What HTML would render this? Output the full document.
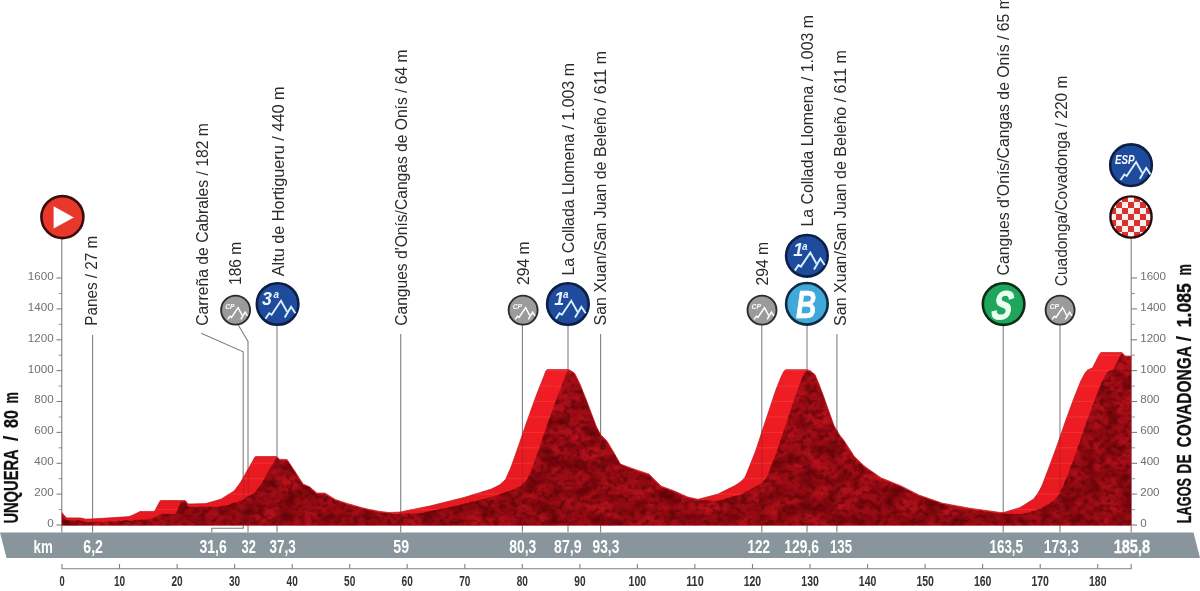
<!DOCTYPE html>
<html lang="es"><head><meta charset="utf-8"><title>Unquera - Lagos de Covadonga</title>
<style>
html,body{margin:0;padding:0;background:#fff;}
body{width:1200px;height:591px;overflow:hidden;}
svg{display:block;}
text{font-family:"Liberation Sans",sans-serif;}
.lbl{font-size:15.6px;fill:#2a2a2a;}
.ax{font-size:11.6px;fill:#707070;}
.km{font-size:18.2px;font-weight:bold;fill:#fff;}
.kx{font-size:14px;font-weight:bold;fill:#333;}
.ttl{font-size:19.4px;font-weight:bold;fill:#111;stroke:#111;stroke-width:.3px;stroke-linejoin:round;}
.ln{stroke:#808080;stroke-width:1.1;fill:none;}
</style></head><body>
<svg width="1200" height="591" viewBox="0 0 1200 591">
<defs>
<filter id="rock" x="0" y="0" width="100%" height="100%" filterUnits="objectBoundingBox" color-interpolation-filters="sRGB">
<feTurbulence type="fractalNoise" baseFrequency="0.17 0.2" numOctaves="2" seed="7" result="n1"/>
<feTurbulence type="fractalNoise" baseFrequency="0.05 0.07" numOctaves="2" seed="23" result="n2"/>
<feColorMatrix in="n1" type="matrix" values="0 0 0 0 0  0 0 0 0 0  0 0 0 0 0  3.6 0 0 0 -1.6" result="a"/>
<feFlood flood-color="#520308" flood-opacity=".6"/>
<feComposite operator="in" in2="a" result="dk"/>
<feColorMatrix in="n2" type="matrix" values="0 0 0 0 0  0 0 0 0 0  0 0 0 0 0  0 3 0 0 -1.2" result="b"/>
<feFlood flood-color="#c2141e" flood-opacity=".7"/>
<feComposite operator="in" in2="b" result="lt"/>
<feColorMatrix in="n2" type="matrix" values="0 0 0 0 0  0 0 0 0 0  0 0 0 0 0  0 0 3.2 0 -1.45" result="c"/>
<feFlood flood-color="#650308" flood-opacity=".8"/>
<feComposite operator="in" in2="c" result="dk2"/>
<feMerge><feMergeNode in="SourceGraphic"/><feMergeNode in="lt"/><feMergeNode in="dk2"/><feMergeNode in="dk"/></feMerge>
<feComposite operator="in" in2="SourceGraphic"/>
</filter>
<linearGradient id="top" x1="0" y1="0" x2="0" y2="1" gradientUnits="userSpaceOnUse" gradientTransform="translate(0,350) scale(1,176)">
<stop offset="0" stop-color="#f21e25"/><stop offset="1" stop-color="#e6181f"/>
</linearGradient>
<linearGradient id="body" x1="0" y1="0" x2="0" y2="1" gradientUnits="userSpaceOnUse" gradientTransform="translate(0,350) scale(1,176)">
<stop offset="0" stop-color="#ac0e18"/><stop offset="1" stop-color="#960b13"/>
</linearGradient>
<clipPath id="cfin"><circle r="20.6"/></clipPath>
<pattern id="chk" x="-3" y="-3" width="12" height="12" patternUnits="userSpaceOnUse">
<rect width="12" height="12" fill="#fbeeee"/><rect width="6" height="6" fill="#d8322c"/><rect x="6" y="6" width="6" height="6" fill="#d8322c"/>
</pattern>
<g id="mtn" fill="none" stroke="#dcefff" stroke-width="1.9" stroke-linejoin="miter" stroke-linecap="butt">
<polyline points="-12.1,14.8 -8.4,9.3 -6.0,10.8 3.4,-3.2 9.6,7.9"/>
<polyline points="7.1,13.6 13.5,2.8 17.8,9.2"/>
</g>
<g id="cp">
<circle r="14.5" fill="#9b9b9b" stroke="#2c2c2c" stroke-width="1.9"/>
<g fill="none" stroke="#fff" stroke-width="1.5"><polyline points="-8,9.3 -5.6,6.1 -4.1,7.3 2.5,-2.4 6.7,5.4"/><polyline points="5.2,9.3 9.5,2.1 11.8,5.7"/></g>
<text x="-10.4" y="-0.9" font-size="7.6" font-weight="bold" font-style="italic" fill="#fff" textLength="9.4" lengthAdjust="spacingAndGlyphs">CP</text>
</g>
</defs>
<rect width="1200" height="591" fill="#fff"/>

<path class="ln" d="M61.8,239.0 V532.6"/>
<path class="ln" d="M92.6,335.0 V532.6"/>
<path class="ln" d="M201.2,333.2 L243.2,351.8 V528.2 H211.8 V532.6"/>
<path class="ln" d="M238,324.5 L248,341.4 V532.6"/>
<path class="ln" d="M277.0,326.0 V532.6"/>
<path class="ln" d="M400.7,334.0 V532.6"/>
<path class="ln" d="M522.4,324.0 V532.6"/>
<path class="ln" d="M568.0,326.0 V532.6"/>
<path class="ln" d="M600.6,334.0 V532.6"/>
<path class="ln" d="M761.8,324.0 V532.6"/>
<path class="ln" d="M807.0,326.0 V532.6"/>
<path class="ln" d="M836.9,334.0 V532.6"/>
<path class="ln" d="M1003.2,326.0 V532.6"/>
<path class="ln" d="M1060.0,324.0 V532.6"/>
<path class="ln" d="M1131.2,238.0 V532.6"/>
<path class="ln" d="M56.5,525.0 H62"/>
<path class="ln" d="M1131,525.0 H1137"/>
<text class="ax" x="53.6" y="526.9" text-anchor="end">0</text>
<text class="ax" x="1140.2" y="526.9">0</text>
<path class="ln" d="M58.5,509.6 H62" stroke-opacity=".75"/>
<path class="ln" d="M1131,509.6 H1135" stroke-opacity=".75"/>
<path class="ln" d="M56.5,494.1 H62"/>
<path class="ln" d="M1131,494.1 H1137"/>
<text class="ax" x="53.6" y="496.0" text-anchor="end">200</text>
<text class="ax" x="1140.2" y="496.0">200</text>
<path class="ln" d="M58.5,478.7 H62" stroke-opacity=".75"/>
<path class="ln" d="M1131,478.7 H1135" stroke-opacity=".75"/>
<path class="ln" d="M56.5,463.3 H62"/>
<path class="ln" d="M1131,463.3 H1137"/>
<text class="ax" x="53.6" y="465.2" text-anchor="end">400</text>
<text class="ax" x="1140.2" y="465.2">400</text>
<path class="ln" d="M58.5,447.8 H62" stroke-opacity=".75"/>
<path class="ln" d="M1131,447.8 H1135" stroke-opacity=".75"/>
<path class="ln" d="M56.5,432.4 H62"/>
<path class="ln" d="M1131,432.4 H1137"/>
<text class="ax" x="53.6" y="434.3" text-anchor="end">600</text>
<text class="ax" x="1140.2" y="434.3">600</text>
<path class="ln" d="M58.5,417.0 H62" stroke-opacity=".75"/>
<path class="ln" d="M1131,417.0 H1135" stroke-opacity=".75"/>
<path class="ln" d="M56.5,401.5 H62"/>
<path class="ln" d="M1131,401.5 H1137"/>
<text class="ax" x="53.6" y="403.4" text-anchor="end">800</text>
<text class="ax" x="1140.2" y="403.4">800</text>
<path class="ln" d="M58.5,386.1 H62" stroke-opacity=".75"/>
<path class="ln" d="M1131,386.1 H1135" stroke-opacity=".75"/>
<path class="ln" d="M56.5,370.6 H62"/>
<path class="ln" d="M1131,370.6 H1137"/>
<text class="ax" x="53.6" y="372.5" text-anchor="end">1000</text>
<text class="ax" x="1140.2" y="372.5">1000</text>
<path class="ln" d="M58.5,355.2 H62" stroke-opacity=".75"/>
<path class="ln" d="M1131,355.2 H1135" stroke-opacity=".75"/>
<path class="ln" d="M56.5,339.8 H62"/>
<path class="ln" d="M1131,339.8 H1137"/>
<text class="ax" x="53.6" y="341.7" text-anchor="end">1200</text>
<text class="ax" x="1140.2" y="341.7">1200</text>
<path class="ln" d="M58.5,324.3 H62" stroke-opacity=".75"/>
<path class="ln" d="M1131,324.3 H1135" stroke-opacity=".75"/>
<path class="ln" d="M56.5,308.9 H62"/>
<path class="ln" d="M1131,308.9 H1137"/>
<text class="ax" x="53.6" y="310.8" text-anchor="end">1400</text>
<text class="ax" x="1140.2" y="310.8">1400</text>
<path class="ln" d="M58.5,293.5 H62" stroke-opacity=".75"/>
<path class="ln" d="M1131,293.5 H1135" stroke-opacity=".75"/>
<path class="ln" d="M56.5,278.0 H62"/>
<path class="ln" d="M1131,278.0 H1137"/>
<text class="ax" x="53.6" y="279.9" text-anchor="end">1600</text>
<text class="ax" x="1140.2" y="279.9">1600</text>
<defs><path id="up" d="M62,525.3 L62.0,512.7 63.0,513.9 64.0,515.1 65.0,516.2 66.0,517.3 67.0,517.9 68.0,517.9 69.0,517.9 70.0,517.9 71.0,517.9 72.0,517.9 73.0,517.9 74.0,517.9 75.0,517.9 76.0,517.9 77.0,517.9 78.0,517.9 79.0,517.9 80.0,517.9 81.0,518.1 82.0,518.3 83.0,518.5 84.0,518.8 85.0,519.0 86.0,519.2 87.0,519.1 88.0,519.1 89.0,519.1 90.0,519.0 91.0,519.0 92.0,518.9 93.0,518.9 94.0,518.8 95.0,518.7 96.0,518.7 97.0,518.6 98.0,518.6 99.0,518.5 100.0,518.4 101.0,518.4 102.0,518.3 103.0,518.3 104.0,518.2 105.0,518.1 106.0,518.1 107.0,518.0 108.0,518.0 109.0,517.9 110.0,517.8 111.0,517.8 112.0,517.7 113.0,517.7 114.0,517.6 115.0,517.5 116.0,517.5 117.0,517.4 118.0,517.3 119.0,517.3 120.0,517.2 121.0,517.1 122.0,517.1 123.0,517.0 124.0,516.9 125.0,516.9 126.0,516.8 127.0,516.7 128.0,516.7 129.0,516.6 130.0,516.2 131.0,515.8 132.0,515.4 133.0,514.9 134.0,514.5 135.0,514.1 136.0,513.6 137.0,513.1 138.0,512.6 139.0,512.1 140.0,511.6 141.0,511.4 142.0,511.4 143.0,511.4 144.0,511.4 145.0,511.4 146.0,511.4 147.0,511.4 148.0,511.4 149.0,511.4 150.0,511.4 151.0,511.4 152.0,511.4 153.0,511.4 154.0,511.4 155.0,510.5 156.0,508.6 157.0,506.7 158.0,504.8 159.0,502.9 160.0,501.0 161.0,500.6 162.0,500.6 163.0,500.6 164.0,500.6 165.0,500.6 166.0,500.6 167.0,500.6 168.0,500.6 169.0,500.6 170.0,500.6 171.0,500.6 172.0,500.6 173.0,500.6 174.0,500.6 175.0,500.6 176.0,500.6 177.0,500.6 178.0,500.6 179.0,500.6 180.0,500.6 181.0,500.6 182.0,500.6 183.0,500.6 184.0,500.6 185.0,500.6 186.0,501.3 187.0,502.6 188.0,503.9 189.0,503.9 190.0,503.9 191.0,503.9 192.0,503.9 193.0,503.9 194.0,503.9 195.0,503.9 196.0,503.8 197.0,503.8 198.0,503.8 199.0,503.8 200.0,503.7 201.0,503.7 202.0,503.7 203.0,503.7 204.0,503.6 205.0,503.6 206.0,503.5 207.0,503.2 208.0,502.9 209.0,502.6 210.0,502.4 211.0,502.1 212.0,501.8 213.0,501.5 214.0,501.2 215.0,500.9 216.0,500.6 217.0,500.3 218.0,500.0 219.0,499.7 220.0,499.4 221.0,499.2 222.0,498.6 223.0,498.0 224.0,497.3 225.0,496.7 226.0,496.1 227.0,495.4 228.0,494.8 229.0,494.2 230.0,493.5 231.0,492.9 232.0,492.3 233.0,491.7 234.0,491.0 235.0,489.8 236.0,488.5 237.0,487.1 238.0,485.8 239.0,484.4 240.0,483.0 241.0,481.6 242.0,479.8 243.0,478.0 244.0,476.2 245.0,474.4 246.0,472.6 247.0,470.9 248.0,469.2 249.0,467.5 250.0,465.8 251.0,464.1 252.0,462.2 253.0,460.4 254.0,458.6 255.0,456.9 256.0,456.6 257.0,456.6 258.0,456.6 259.0,456.6 260.0,456.6 261.0,456.6 262.0,456.6 263.0,456.6 264.0,456.6 265.0,456.6 266.0,456.6 267.0,456.6 268.0,456.6 269.0,456.6 270.0,456.6 271.0,456.6 272.0,456.6 273.0,456.6 274.0,456.6 275.0,456.6 276.0,456.6 277.0,456.8 278.0,457.8 279.0,458.9 280.0,459.4 281.0,459.4 282.0,459.4 283.0,459.4 284.0,459.4 285.0,459.4 286.0,459.4 287.0,459.4 288.0,460.9 289.0,462.4 290.0,463.9 291.0,465.4 292.0,466.9 293.0,468.4 294.0,469.9 295.0,471.4 296.0,473.0 297.0,474.5 298.0,476.1 299.0,477.7 300.0,479.2 301.0,480.8 302.0,482.3 303.0,483.9 304.0,484.4 305.0,484.8 306.0,485.3 307.0,485.7 308.0,486.2 309.0,486.6 310.0,487.1 311.0,488.0 312.0,488.9 313.0,489.7 314.0,490.6 315.0,491.5 316.0,492.4 317.0,493.1 318.0,493.1 319.0,493.1 320.0,493.1 321.0,493.1 322.0,493.1 323.0,493.1 324.0,493.1 325.0,493.1 326.0,493.7 327.0,494.4 328.0,495.0 329.0,495.6 330.0,496.2 331.0,496.9 332.0,497.5 333.0,498.1 334.0,498.8 335.0,499.4 336.0,499.7 337.0,500.1 338.0,500.4 339.0,500.7 340.0,501.1 341.0,501.4 342.0,501.7 343.0,502.1 344.0,502.4 345.0,502.7 346.0,503.1 347.0,503.4 348.0,503.7 349.0,504.0 350.0,504.3 351.0,504.5 352.0,504.8 353.0,505.1 354.0,505.4 355.0,505.7 356.0,506.0 357.0,506.3 358.0,506.6 359.0,506.9 360.0,507.1 361.0,507.4 362.0,507.7 363.0,508.0 364.0,508.2 365.0,508.4 366.0,508.6 367.0,508.9 368.0,509.1 369.0,509.3 370.0,509.5 371.0,509.7 372.0,509.9 373.0,510.1 374.0,510.3 375.0,510.5 376.0,510.7 377.0,510.9 378.0,511.1 379.0,511.3 380.0,511.5 381.0,511.6 382.0,511.7 383.0,511.8 384.0,511.9 385.0,512.0 386.0,512.1 387.0,512.3 388.0,512.4 389.0,512.5 390.0,512.5 391.0,512.4 392.0,512.4 393.0,512.4 394.0,512.3 395.0,512.3 396.0,512.2 397.0,512.2 398.0,512.2 399.0,512.1 400.0,512.1 401.0,511.9 402.0,511.7 403.0,511.4 404.0,511.2 405.0,511.0 406.0,510.8 407.0,510.6 408.0,510.4 409.0,510.2 410.0,510.0 411.0,509.8 412.0,509.6 413.0,509.4 414.0,509.2 415.0,509.0 416.0,508.8 417.0,508.6 418.0,508.4 419.0,508.2 420.0,508.0 421.0,507.8 422.0,507.6 423.0,507.4 424.0,507.2 425.0,507.0 426.0,506.8 427.0,506.6 428.0,506.4 429.0,506.2 430.0,506.0 431.0,505.7 432.0,505.5 433.0,505.2 434.0,505.0 435.0,504.7 436.0,504.5 437.0,504.2 438.0,504.0 439.0,503.7 440.0,503.5 441.0,503.2 442.0,503.0 443.0,502.7 444.0,502.5 445.0,502.2 446.0,502.0 447.0,501.7 448.0,501.5 449.0,501.2 450.0,501.0 451.0,500.7 452.0,500.5 453.0,500.2 454.0,500.0 455.0,499.7 456.0,499.5 457.0,499.2 458.0,499.0 459.0,498.7 460.0,498.5 461.0,498.2 462.0,498.0 463.0,497.7 464.0,497.5 465.0,497.2 466.0,496.9 467.0,496.6 468.0,496.3 469.0,496.0 470.0,495.6 471.0,495.3 472.0,495.0 473.0,494.7 474.0,494.4 475.0,494.1 476.0,493.8 477.0,493.5 478.0,493.2 479.0,492.9 480.0,492.6 481.0,492.2 482.0,491.9 483.0,491.6 484.0,491.3 485.0,491.0 486.0,490.7 487.0,490.4 488.0,490.1 489.0,489.8 490.0,489.5 491.0,489.2 492.0,488.7 493.0,488.2 494.0,487.8 495.0,487.3 496.0,486.8 497.0,486.3 498.0,485.8 499.0,485.3 500.0,484.6 501.0,483.7 502.0,482.8 503.0,481.9 504.0,481.0 505.0,480.1 506.0,478.5 507.0,476.2 508.0,473.9 509.0,471.6 510.0,469.4 511.0,467.1 512.0,464.3 513.0,461.5 514.0,458.7 515.0,455.9 516.0,453.1 517.0,450.2 518.0,447.3 519.0,444.4 520.0,441.5 521.0,438.6 522.0,435.7 523.0,432.8 524.0,429.9 525.0,427.0 526.0,424.1 527.0,421.3 528.0,418.5 529.0,415.7 530.0,412.9 531.0,410.1 532.0,407.3 533.0,404.5 534.0,401.7 535.0,399.0 536.0,396.2 537.0,393.6 538.0,391.1 539.0,388.6 540.0,386.1 541.0,383.6 542.0,381.1 543.0,378.6 544.0,375.9 545.0,373.2 546.0,370.8 547.0,369.6 548.0,369.6 549.0,369.6 550.0,369.6 551.0,369.6 552.0,369.6 553.0,369.6 554.0,369.6 555.0,369.6 556.0,369.6 557.0,369.6 558.0,369.6 559.0,369.6 560.0,369.6 561.0,369.6 562.0,369.6 563.0,369.6 564.0,369.6 565.0,369.6 566.0,369.6 567.0,369.6 568.0,369.6 569.0,369.9 570.0,370.1 571.0,370.8 572.0,371.4 573.0,372.1 574.0,372.7 575.0,373.9 576.0,376.0 577.0,378.0 578.0,380.0 579.0,382.1 580.0,384.1 581.0,386.6 582.0,389.1 583.0,391.6 584.0,394.1 585.0,396.6 586.0,399.1 587.0,401.7 588.0,404.3 589.0,407.0 590.0,409.6 591.0,412.3 592.0,414.9 593.0,417.6 594.0,420.2 595.0,422.9 596.0,425.5 597.0,427.8 598.0,429.6 599.0,431.5 600.0,433.3 601.0,435.1 602.0,436.1 603.0,437.0 604.0,438.0 605.0,439.0 606.0,439.9 607.0,441.1 608.0,442.8 609.0,444.4 610.0,446.1 611.0,447.8 612.0,449.4 613.0,451.1 614.0,452.8 615.0,454.6 616.0,456.3 617.0,458.0 618.0,459.8 619.0,461.5 620.0,463.2 621.0,464.3 622.0,464.7 623.0,465.0 624.0,465.4 625.0,465.8 626.0,466.1 627.0,466.5 628.0,466.9 629.0,467.2 630.0,467.6 631.0,468.0 632.0,468.4 633.0,468.7 634.0,469.1 635.0,469.4 636.0,469.8 637.0,470.1 638.0,470.4 639.0,470.8 640.0,471.1 641.0,471.4 642.0,471.8 643.0,472.1 644.0,472.4 645.0,472.8 646.0,473.1 647.0,473.4 648.0,473.8 649.0,474.1 650.0,475.1 651.0,476.1 652.0,477.1 653.0,478.1 654.0,479.1 655.0,480.1 656.0,481.1 657.0,482.1 658.0,483.1 659.0,484.1 660.0,485.1 661.0,486.1 662.0,486.5 663.0,486.8 664.0,487.2 665.0,487.6 666.0,487.9 667.0,488.3 668.0,488.7 669.0,489.0 670.0,489.4 671.0,489.8 672.0,490.1 673.0,490.5 674.0,490.9 675.0,491.3 676.0,491.7 677.0,492.2 678.0,492.6 679.0,493.1 680.0,493.5 681.0,494.0 682.0,494.4 683.0,494.9 684.0,495.3 685.0,495.8 686.0,496.2 687.0,496.7 688.0,497.1 689.0,497.3 690.0,497.5 691.0,497.8 692.0,498.0 693.0,498.2 694.0,498.4 695.0,498.6 696.0,498.9 697.0,499.1 698.0,499.3 699.0,499.1 700.0,498.8 701.0,498.6 702.0,498.3 703.0,498.0 704.0,497.8 705.0,497.5 706.0,497.2 707.0,497.0 708.0,496.7 709.0,496.5 710.0,496.2 711.0,495.9 712.0,495.7 713.0,495.4 714.0,495.1 715.0,494.9 716.0,494.6 717.0,494.4 718.0,494.1 719.0,493.6 720.0,493.1 721.0,492.6 722.0,492.1 723.0,491.6 724.0,491.1 725.0,490.6 726.0,490.1 727.0,489.6 728.0,489.1 729.0,488.6 730.0,488.1 731.0,487.6 732.0,487.1 733.0,486.6 734.0,486.1 735.0,485.6 736.0,484.9 737.0,484.3 738.0,483.6 739.0,482.9 740.0,482.3 741.0,481.6 742.0,480.5 743.0,479.5 744.0,478.4 745.0,477.3 746.0,475.1 747.0,472.6 748.0,470.1 749.0,467.6 750.0,465.1 751.0,462.6 752.0,460.1 753.0,457.6 754.0,455.1 755.0,452.6 756.0,449.7 757.0,446.7 758.0,443.7 759.0,440.7 760.0,437.7 761.0,434.6 762.0,431.6 763.0,428.6 764.0,425.6 765.0,422.6 766.0,419.6 767.0,416.6 768.0,413.6 769.0,410.5 770.0,407.5 771.0,404.5 772.0,401.5 773.0,398.5 774.0,395.4 775.0,392.4 776.0,389.6 777.0,387.1 778.0,384.6 779.0,382.1 780.0,379.6 781.0,377.1 782.0,375.1 783.0,373.1 784.0,371.1 785.0,370.2 786.0,369.7 787.0,369.7 788.0,369.7 789.0,369.7 790.0,369.7 791.0,369.7 792.0,369.7 793.0,369.7 794.0,369.7 795.0,369.7 796.0,369.7 797.0,369.7 798.0,369.7 799.0,369.7 800.0,369.7 801.0,369.7 802.0,369.7 803.0,369.7 804.0,369.7 805.0,369.7 806.0,369.7 807.0,369.7 808.0,370.0 809.0,370.3 810.0,370.6 811.0,371.4 812.0,372.2 813.0,373.0 814.0,373.8 815.0,374.6 816.0,377.0 817.0,379.4 818.0,381.7 819.0,384.1 820.0,386.8 821.0,389.4 822.0,392.1 823.0,394.7 824.0,397.4 825.0,400.3 826.0,403.1 827.0,405.9 828.0,408.7 829.0,411.6 830.0,414.4 831.0,417.2 832.0,420.0 833.0,422.8 834.0,425.4 835.0,427.2 836.0,428.9 837.0,430.6 838.0,432.4 839.0,434.1 840.0,435.4 841.0,436.7 842.0,438.0 843.0,439.3 844.0,440.6 845.0,442.1 846.0,443.7 847.0,445.2 848.0,446.7 849.0,448.2 850.0,449.8 851.0,451.3 852.0,452.8 853.0,454.4 854.0,455.9 855.0,456.9 856.0,457.9 857.0,458.9 858.0,459.9 859.0,460.9 860.0,461.8 861.0,462.8 862.0,463.8 863.0,464.8 864.0,465.8 865.0,466.6 866.0,467.3 867.0,468.0 868.0,468.7 869.0,469.4 870.0,470.1 871.0,470.8 872.0,471.5 873.0,472.2 874.0,472.9 875.0,473.6 876.0,474.3 877.0,475.0 878.0,475.7 879.0,476.4 880.0,477.1 881.0,477.8 882.0,478.2 883.0,478.6 884.0,479.0 885.0,479.4 886.0,479.8 887.0,480.2 888.0,480.6 889.0,481.0 890.0,481.4 891.0,481.8 892.0,482.3 893.0,482.7 894.0,483.1 895.0,483.5 896.0,483.9 897.0,484.3 898.0,484.7 899.0,485.1 900.0,485.5 901.0,485.9 902.0,486.4 903.0,486.9 904.0,487.4 905.0,487.9 906.0,488.4 907.0,488.9 908.0,489.4 909.0,490.0 910.0,490.5 911.0,491.0 912.0,491.5 913.0,492.0 914.0,492.5 915.0,493.0 916.0,493.6 917.0,494.1 918.0,494.6 919.0,495.0 920.0,495.4 921.0,495.7 922.0,496.1 923.0,496.4 924.0,496.8 925.0,497.1 926.0,497.5 927.0,497.8 928.0,498.2 929.0,498.5 930.0,498.9 931.0,499.2 932.0,499.6 933.0,499.9 934.0,500.3 935.0,500.6 936.0,501.0 937.0,501.3 938.0,501.7 939.0,502.0 940.0,502.4 941.0,502.7 942.0,503.1 943.0,503.3 944.0,503.5 945.0,503.7 946.0,503.8 947.0,504.0 948.0,504.2 949.0,504.4 950.0,504.6 951.0,504.8 952.0,505.0 953.0,505.1 954.0,505.3 955.0,505.5 956.0,505.7 957.0,505.9 958.0,506.1 959.0,506.2 960.0,506.4 961.0,506.6 962.0,506.8 963.0,507.0 964.0,507.2 965.0,507.4 966.0,507.5 967.0,507.7 968.0,507.9 969.0,508.1 970.0,508.2 971.0,508.4 972.0,508.5 973.0,508.7 974.0,508.8 975.0,508.9 976.0,509.1 977.0,509.2 978.0,509.4 979.0,509.5 980.0,509.6 981.0,509.8 982.0,509.9 983.0,510.1 984.0,510.2 985.0,510.3 986.0,510.5 987.0,510.6 988.0,510.8 989.0,510.9 990.0,511.0 991.0,511.2 992.0,511.3 993.0,511.5 994.0,511.6 995.0,511.7 996.0,511.9 997.0,512.0 998.0,512.2 999.0,512.3 1000.0,512.4 1001.0,512.5 1002.0,512.6 1003.0,512.6 1004.0,512.4 1005.0,512.1 1006.0,511.8 1007.0,511.5 1008.0,511.2 1009.0,510.9 1010.0,510.6 1011.0,510.3 1012.0,510.0 1013.0,509.7 1014.0,509.4 1015.0,509.1 1016.0,508.8 1017.0,508.5 1018.0,508.2 1019.0,507.9 1020.0,507.6 1021.0,507.0 1022.0,506.3 1023.0,505.7 1024.0,505.1 1025.0,504.5 1026.0,503.8 1027.0,503.2 1028.0,502.6 1029.0,501.9 1030.0,501.3 1031.0,500.7 1032.0,500.0 1033.0,499.4 1034.0,498.4 1035.0,497.1 1036.0,495.8 1037.0,494.4 1038.0,493.1 1039.0,491.2 1040.0,489.4 1041.0,487.5 1042.0,485.6 1043.0,483.0 1044.0,480.4 1045.0,477.8 1046.0,475.2 1047.0,472.6 1048.0,470.0 1049.0,467.3 1050.0,464.6 1051.0,461.9 1052.0,459.2 1053.0,456.5 1054.0,453.8 1055.0,451.1 1056.0,448.4 1057.0,445.6 1058.0,442.8 1059.0,439.9 1060.0,437.0 1061.0,434.1 1062.0,431.2 1063.0,428.3 1064.0,425.4 1065.0,422.5 1066.0,419.7 1067.0,417.0 1068.0,414.3 1069.0,411.5 1070.0,408.8 1071.0,406.1 1072.0,403.3 1073.0,400.6 1074.0,397.9 1075.0,395.4 1076.0,392.9 1077.0,390.4 1078.0,387.9 1079.0,385.4 1080.0,382.9 1081.0,380.5 1082.0,378.7 1083.0,376.8 1084.0,375.0 1085.0,373.1 1086.0,371.8 1087.0,370.5 1088.0,369.7 1089.0,369.4 1090.0,369.0 1091.0,368.6 1092.0,368.3 1093.0,367.1 1094.0,365.1 1095.0,363.1 1096.0,361.1 1097.0,359.0 1098.0,357.0 1099.0,354.9 1100.0,353.5 1101.0,352.6 1102.0,352.6 1103.0,352.6 1104.0,352.6 1105.0,352.6 1106.0,352.6 1107.0,352.6 1108.0,352.6 1109.0,352.6 1110.0,352.6 1111.0,352.6 1112.0,352.6 1113.0,352.6 1114.0,352.6 1115.0,352.6 1116.0,352.6 1117.0,352.6 1118.0,352.6 1119.0,352.6 1120.0,352.6 1121.0,352.6 1122.0,352.6 1123.0,353.6 1124.0,354.7 1125.0,355.7 1126.0,356.1 1127.0,356.1 1128.0,356.1 1129.0,356.1 1130.0,356.1 1131.0,356.1 L1131,525.3 Z"/><clipPath id="bandclip"><use href="#up"/></clipPath></defs>
<use href="#up" fill="url(#top)" stroke="#b8141c" stroke-width=".7"/>
<g clip-path="url(#bandclip)" stroke="#ff5a55" stroke-opacity=".45" stroke-width=".8">
<path d="M62,509.6 H1131"/>
<path d="M62,494.1 H1131"/>
<path d="M62,478.7 H1131"/>
<path d="M62,463.3 H1131"/>
<path d="M62,447.8 H1131"/>
<path d="M62,432.4 H1131"/>
<path d="M62,417.0 H1131"/>
<path d="M62,401.5 H1131"/>
<path d="M62,386.1 H1131"/>
<path d="M62,370.6 H1131"/>
<path d="M62,355.2 H1131"/>
</g>
<path d="M62,525.3 L62.0,513.6 63.0,515.4 64.0,516.9 65.0,518.3 66.0,519.7 67.0,520.1 68.0,520.3 69.0,520.1 70.0,520.6 71.0,520.4 72.0,520.2 73.0,520.0 74.0,520.5 75.0,520.3 76.0,520.2 77.0,520.3 78.0,520.2 79.0,520.3 80.0,520.5 81.0,520.8 82.0,520.8 83.0,520.9 84.0,521.4 85.0,521.7 86.0,521.6 87.0,522.0 88.0,521.8 89.0,522.0 90.0,522.3 91.0,522.3 92.0,522.0 93.0,521.9 94.0,521.8 95.0,522.0 96.0,521.6 97.0,521.8 98.0,522.1 99.0,521.4 100.0,521.6 101.0,521.6 102.0,521.9 103.0,521.9 104.0,522.0 105.0,521.6 106.0,521.4 107.0,521.6 108.0,521.4 109.0,521.5 110.0,521.5 111.0,521.5 112.0,521.6 113.0,521.2 114.0,521.5 115.0,521.5 116.0,521.4 117.0,521.1 118.0,521.0 119.0,520.5 120.0,521.1 121.0,520.9 122.0,521.0 123.0,520.6 124.0,520.2 125.0,520.2 126.0,520.1 127.0,520.4 128.0,520.2 129.0,520.6 130.0,520.8 131.0,520.6 132.0,520.7 133.0,520.4 134.0,519.9 135.0,520.1 136.0,519.7 137.0,519.9 138.0,519.8 139.0,519.9 140.0,520.0 141.0,519.5 142.0,519.5 143.0,519.6 144.0,519.4 145.0,519.4 146.0,519.2 147.0,519.0 148.0,519.3 149.0,519.2 150.0,518.7 151.0,518.4 152.0,518.1 153.0,517.6 154.0,517.2 155.0,516.9 156.0,516.2 157.0,516.1 158.0,515.8 159.0,515.1 160.0,514.6 161.0,514.2 162.0,513.8 163.0,513.4 164.0,513.6 165.0,513.9 166.0,514.0 167.0,513.8 168.0,513.6 169.0,513.8 170.0,513.8 171.0,513.8 172.0,513.6 173.0,513.8 174.0,513.9 175.0,513.7 176.0,513.0 177.0,510.6 178.0,508.6 179.0,506.5 180.0,504.2 181.0,502.0 182.0,501.6 183.0,501.7 184.0,501.6 185.0,501.5 186.0,502.4 187.0,504.4 188.0,506.4 189.0,506.9 190.0,506.8 191.0,506.6 192.0,506.7 193.0,506.6 194.0,506.5 195.0,506.9 196.0,506.8 197.0,506.8 198.0,506.4 199.0,506.6 200.0,506.5 201.0,506.6 202.0,506.3 203.0,506.5 204.0,506.7 205.0,506.6 206.0,506.4 207.0,506.6 208.0,506.3 209.0,506.6 210.0,506.6 211.0,506.6 212.0,506.9 213.0,507.0 214.0,506.7 215.0,506.7 216.0,506.4 217.0,506.7 218.0,506.5 219.0,506.4 220.0,506.3 221.0,505.8 222.0,505.8 223.0,505.8 224.0,505.3 225.0,505.7 226.0,505.4 227.0,505.4 228.0,505.1 229.0,504.9 230.0,504.3 231.0,503.7 232.0,503.5 233.0,502.9 234.0,502.6 235.0,502.4 236.0,502.3 237.0,501.9 238.0,501.8 239.0,501.0 240.0,500.7 241.0,500.2 242.0,500.0 243.0,499.4 244.0,499.2 245.0,498.4 246.0,497.5 247.0,496.8 248.0,496.2 249.0,495.8 250.0,495.2 251.0,494.5 252.0,493.9 253.0,493.5 254.0,492.9 255.0,492.0 256.0,490.5 257.0,489.3 258.0,488.0 259.0,486.6 260.0,485.4 261.0,484.1 262.0,482.6 263.0,480.7 264.0,478.8 265.0,476.8 266.0,475.1 267.0,473.2 268.0,471.4 269.0,470.0 270.0,468.5 271.0,466.6 272.0,464.9 273.0,463.2 274.0,461.4 275.0,459.6 276.0,458.2 277.0,457.6 278.0,458.5 279.0,459.9 280.0,460.6 281.0,460.3 282.0,460.1 283.0,460.3 284.0,460.6 285.0,460.3 286.0,460.4 287.0,460.4 288.0,461.8 289.0,463.1 290.0,464.6 291.0,466.1 292.0,467.7 293.0,469.2 294.0,470.8 295.0,472.1 296.0,473.7 297.0,475.4 298.0,476.9 299.0,478.7 300.0,480.3 301.0,481.8 302.0,483.3 303.0,485.0 304.0,485.4 305.0,485.6 306.0,486.1 307.0,486.3 308.0,486.6 309.0,487.3 310.0,487.8 311.0,489.1 312.0,490.0 313.0,490.8 314.0,491.3 315.0,492.4 316.0,493.2 317.0,494.0 318.0,494.1 319.0,493.8 320.0,493.7 321.0,493.8 322.0,494.0 323.0,493.9 324.0,493.9 325.0,494.0 326.0,494.6 327.0,495.3 328.0,496.1 329.0,497.0 330.0,497.3 331.0,498.0 332.0,498.6 333.0,498.9 334.0,499.6 335.0,500.6 336.0,500.9 337.0,500.5 338.0,501.0 339.0,501.6 340.0,501.8 341.0,502.2 342.0,502.8 343.0,503.0 344.0,503.3 345.0,503.8 346.0,504.3 347.0,504.3 348.0,504.7 349.0,504.7 350.0,505.0 351.0,505.6 352.0,505.9 353.0,506.2 354.0,506.4 355.0,506.4 356.0,506.6 357.0,507.0 358.0,507.0 359.0,507.6 360.0,507.9 361.0,508.3 362.0,508.7 363.0,508.9 364.0,508.6 365.0,509.0 366.0,509.4 367.0,509.6 368.0,509.9 369.0,510.5 370.0,510.7 371.0,510.6 372.0,510.5 373.0,511.1 374.0,511.3 375.0,511.4 376.0,511.7 377.0,511.6 378.0,512.0 379.0,512.4 380.0,512.3 381.0,512.6 382.0,512.6 383.0,512.9 384.0,512.9 385.0,512.9 386.0,513.3 387.0,513.1 388.0,513.0 389.0,513.1 390.0,513.3 391.0,513.3 392.0,513.8 393.0,514.1 394.0,513.7 395.0,513.7 396.0,514.0 397.0,513.7 398.0,513.7 399.0,513.8 400.0,513.7 401.0,513.5 402.0,513.6 403.0,513.9 404.0,513.7 405.0,513.4 406.0,513.2 407.0,513.6 408.0,513.6 409.0,513.1 410.0,513.5 411.0,513.7 412.0,513.2 413.0,512.9 414.0,513.2 415.0,513.1 416.0,513.3 417.0,513.1 418.0,513.2 419.0,513.2 420.0,512.8 421.0,512.9 422.0,512.7 423.0,512.7 424.0,512.5 425.0,512.3 426.0,512.1 427.0,511.8 428.0,511.4 429.0,511.3 430.0,511.2 431.0,510.8 432.0,510.7 433.0,510.4 434.0,510.1 435.0,510.0 436.0,510.0 437.0,509.5 438.0,509.5 439.0,509.3 440.0,509.0 441.0,508.8 442.0,508.9 443.0,508.6 444.0,508.2 445.0,508.2 446.0,508.1 447.0,507.7 448.0,507.7 449.0,507.3 450.0,506.9 451.0,506.8 452.0,506.7 453.0,506.6 454.0,506.2 455.0,505.8 456.0,505.4 457.0,505.4 458.0,505.6 459.0,505.2 460.0,504.8 461.0,504.2 462.0,503.9 463.0,504.3 464.0,503.6 465.0,503.5 466.0,503.2 467.0,503.1 468.0,503.3 469.0,502.5 470.0,501.6 471.0,501.9 472.0,501.6 473.0,501.1 474.0,501.3 475.0,501.4 476.0,500.8 477.0,500.5 478.0,500.3 479.0,500.1 480.0,499.6 481.0,499.1 482.0,499.2 483.0,499.1 484.0,498.9 485.0,498.6 486.0,497.9 487.0,498.0 488.0,497.3 489.0,497.1 490.0,497.1 491.0,496.5 492.0,496.5 493.0,496.2 494.0,495.7 495.0,495.3 496.0,495.3 497.0,495.2 498.0,494.5 499.0,494.0 500.0,494.0 501.0,493.4 502.0,493.5 503.0,493.0 504.0,492.8 505.0,492.4 506.0,491.8 507.0,491.6 508.0,491.5 509.0,490.8 510.0,490.6 511.0,490.4 512.0,489.6 513.0,489.2 514.0,488.8 515.0,488.4 516.0,488.1 517.0,487.6 518.0,486.9 519.0,486.7 520.0,486.5 521.0,485.6 522.0,484.6 523.0,483.6 524.0,482.5 525.0,481.8 526.0,480.8 527.0,479.2 528.0,477.2 529.0,475.0 530.0,472.5 531.0,470.5 532.0,468.1 533.0,465.1 534.0,462.5 535.0,459.6 536.0,456.5 537.0,453.9 538.0,451.4 539.0,448.4 540.0,445.3 541.0,442.5 542.0,439.6 543.0,436.4 544.0,433.7 545.0,430.7 546.0,428.4 547.0,425.1 548.0,422.3 549.0,419.4 550.0,416.7 551.0,414.0 552.0,411.2 553.0,408.8 554.0,405.8 555.0,402.5 556.0,399.9 557.0,397.0 558.0,394.3 559.0,392.1 560.0,389.7 561.0,387.0 562.0,384.6 563.0,382.1 564.0,379.6 565.0,376.9 566.0,374.0 567.0,371.7 568.0,370.0 569.0,370.6 570.0,371.1 571.0,371.9 572.0,372.2 573.0,372.8 574.0,373.9 575.0,374.7 576.0,376.8 577.0,378.8 578.0,380.8 579.0,383.1 580.0,385.3 581.0,387.4 582.0,389.9 583.0,392.7 584.0,395.4 585.0,397.5 586.0,399.7 587.0,402.1 588.0,405.3 589.0,407.9 590.0,410.4 591.0,413.4 592.0,415.8 593.0,418.7 594.0,421.3 595.0,423.9 596.0,426.3 597.0,428.7 598.0,430.4 599.0,432.5 600.0,434.1 601.0,436.2 602.0,437.0 603.0,437.7 604.0,438.9 605.0,440.1 606.0,441.2 607.0,442.4 608.0,443.6 609.0,445.5 610.0,447.3 611.0,448.7 612.0,450.6 613.0,452.2 614.0,453.8 615.0,455.3 616.0,457.2 617.0,458.7 618.0,460.5 619.0,462.3 620.0,464.1 621.0,465.1 622.0,465.0 623.0,465.5 624.0,466.1 625.0,466.8 626.0,467.1 627.0,467.4 628.0,467.7 629.0,468.4 630.0,468.8 631.0,469.0 632.0,469.1 633.0,469.3 634.0,469.6 635.0,470.4 636.0,470.7 637.0,471.1 638.0,471.8 639.0,471.9 640.0,471.8 641.0,472.3 642.0,472.5 643.0,472.7 644.0,473.3 645.0,473.7 646.0,473.8 647.0,474.4 648.0,474.2 649.0,474.9 650.0,476.0 651.0,477.0 652.0,478.4 653.0,479.2 654.0,480.2 655.0,481.2 656.0,482.1 657.0,483.0 658.0,483.9 659.0,484.9 660.0,485.9 661.0,487.3 662.0,487.6 663.0,487.9 664.0,488.1 665.0,488.6 666.0,488.8 667.0,489.0 668.0,489.6 669.0,490.1 670.0,490.5 671.0,490.7 672.0,491.0 673.0,491.4 674.0,491.7 675.0,492.4 676.0,492.9 677.0,492.9 678.0,493.2 679.0,493.9 680.0,494.5 681.0,494.5 682.0,495.2 683.0,495.8 684.0,496.2 685.0,496.7 686.0,497.4 687.0,498.0 688.0,498.0 689.0,498.3 690.0,498.6 691.0,499.2 692.0,498.9 693.0,498.8 694.0,499.2 695.0,500.0 696.0,500.2 697.0,500.1 698.0,500.5 699.0,500.2 700.0,500.0 701.0,500.2 702.0,500.2 703.0,500.2 704.0,500.4 705.0,500.1 706.0,500.5 707.0,500.2 708.0,500.3 709.0,500.7 710.0,500.3 711.0,500.5 712.0,500.5 713.0,500.8 714.0,500.6 715.0,500.8 716.0,500.5 717.0,500.5 718.0,500.8 719.0,500.3 720.0,500.1 721.0,499.8 722.0,499.6 723.0,499.4 724.0,499.2 725.0,498.8 726.0,498.4 727.0,498.1 728.0,497.8 729.0,497.7 730.0,497.5 731.0,497.1 732.0,496.7 733.0,496.3 734.0,496.2 735.0,496.0 736.0,495.8 737.0,495.5 738.0,495.5 739.0,494.7 740.0,494.5 741.0,494.2 742.0,493.8 743.0,493.2 744.0,492.6 745.0,491.7 746.0,491.2 747.0,491.0 748.0,490.8 749.0,489.9 750.0,489.4 751.0,488.6 752.0,488.5 753.0,487.9 754.0,487.0 755.0,486.9 756.0,486.4 757.0,485.8 758.0,485.1 759.0,484.6 760.0,483.9 761.0,483.4 762.0,482.6 763.0,481.4 764.0,480.2 765.0,479.1 766.0,478.2 767.0,476.2 768.0,473.4 769.0,471.1 770.0,468.5 771.0,465.9 772.0,463.3 773.0,461.0 774.0,458.6 775.0,456.0 776.0,453.4 777.0,450.6 778.0,447.6 779.0,444.3 780.0,441.2 781.0,438.5 782.0,435.5 783.0,432.5 784.0,429.4 785.0,426.7 786.0,423.7 787.0,420.4 788.0,417.5 789.0,414.6 790.0,411.7 791.0,408.5 792.0,405.5 793.0,402.5 794.0,399.6 795.0,396.5 796.0,393.3 797.0,390.8 798.0,388.2 799.0,385.7 800.0,383.0 801.0,380.7 802.0,377.6 803.0,376.0 804.0,374.1 805.0,371.9 806.0,370.9 807.0,370.8 808.0,370.9 809.0,371.3 810.0,371.6 811.0,372.5 812.0,373.0 813.0,373.5 814.0,374.7 815.0,375.4 816.0,377.7 817.0,380.1 818.0,382.7 819.0,385.1 820.0,387.3 821.0,389.9 822.0,392.8 823.0,395.5 824.0,398.3 825.0,400.8 826.0,404.3 827.0,407.1 828.0,409.5 829.0,411.7 830.0,415.0 831.0,417.9 832.0,420.6 833.0,423.6 834.0,426.3 835.0,427.8 836.0,429.6 837.0,431.1 838.0,432.9 839.0,434.6 840.0,435.9 841.0,437.7 842.0,439.0 843.0,440.2 844.0,441.1 845.0,442.9 846.0,444.4 847.0,445.8 848.0,447.7 849.0,449.2 850.0,450.8 851.0,452.3 852.0,453.6 853.0,455.2 854.0,456.8 855.0,458.0 856.0,458.8 857.0,459.9 858.0,461.1 859.0,461.9 860.0,462.9 861.0,464.0 862.0,464.6 863.0,465.9 864.0,467.2 865.0,467.6 866.0,468.1 867.0,469.0 868.0,469.7 869.0,470.3 870.0,470.9 871.0,471.4 872.0,472.2 873.0,473.0 874.0,473.8 875.0,474.6 876.0,475.3 877.0,476.0 878.0,476.8 879.0,477.6 880.0,478.3 881.0,478.8 882.0,479.0 883.0,479.2 884.0,479.9 885.0,480.5 886.0,480.8 887.0,481.0 888.0,481.5 889.0,481.7 890.0,482.2 891.0,482.8 892.0,483.2 893.0,483.8 894.0,483.9 895.0,484.1 896.0,484.7 897.0,485.1 898.0,485.4 899.0,485.9 900.0,486.0 901.0,486.5 902.0,487.1 903.0,487.7 904.0,488.1 905.0,488.9 906.0,489.4 907.0,489.7 908.0,490.3 909.0,490.7 910.0,491.3 911.0,492.1 912.0,492.6 913.0,493.4 914.0,493.4 915.0,493.9 916.0,494.5 917.0,494.8 918.0,495.4 919.0,495.7 920.0,496.3 921.0,496.6 922.0,497.0 923.0,497.6 924.0,497.7 925.0,497.9 926.0,498.1 927.0,498.6 928.0,499.3 929.0,499.3 930.0,499.7 931.0,500.2 932.0,500.5 933.0,500.8 934.0,500.9 935.0,501.4 936.0,501.8 937.0,501.9 938.0,502.3 939.0,502.6 940.0,503.5 941.0,503.7 942.0,504.0 943.0,504.1 944.0,504.2 945.0,504.4 946.0,504.7 947.0,505.0 948.0,504.8 949.0,504.9 950.0,505.6 951.0,505.9 952.0,506.0 953.0,506.1 954.0,506.0 955.0,505.9 956.0,506.5 957.0,507.2 958.0,506.9 959.0,507.1 960.0,507.8 961.0,507.5 962.0,507.4 963.0,507.7 964.0,508.3 965.0,508.5 966.0,508.8 967.0,508.9 968.0,508.8 969.0,508.9 970.0,509.0 971.0,509.3 972.0,509.2 973.0,509.5 974.0,509.9 975.0,510.0 976.0,509.8 977.0,510.2 978.0,510.7 979.0,510.4 980.0,510.5 981.0,510.5 982.0,510.7 983.0,511.0 984.0,511.2 985.0,511.5 986.0,511.4 987.0,511.4 988.0,511.8 989.0,511.7 990.0,511.9 991.0,511.9 992.0,512.3 993.0,512.2 994.0,512.7 995.0,512.6 996.0,512.8 997.0,513.3 998.0,513.4 999.0,513.5 1000.0,513.5 1001.0,513.5 1002.0,513.5 1003.0,513.3 1004.0,513.7 1005.0,513.8 1006.0,513.7 1007.0,514.0 1008.0,514.0 1009.0,513.9 1010.0,513.7 1011.0,513.8 1012.0,513.8 1013.0,513.9 1014.0,513.8 1015.0,513.9 1016.0,514.0 1017.0,513.6 1018.0,514.1 1019.0,513.9 1020.0,514.0 1021.0,513.7 1022.0,513.8 1023.0,513.6 1024.0,513.5 1025.0,512.9 1026.0,513.1 1027.0,513.0 1028.0,512.4 1029.0,511.8 1030.0,511.9 1031.0,511.5 1032.0,511.0 1033.0,510.9 1034.0,510.6 1035.0,510.4 1036.0,509.7 1037.0,509.5 1038.0,509.0 1039.0,508.7 1040.0,508.7 1041.0,508.5 1042.0,507.8 1043.0,507.2 1044.0,506.5 1045.0,506.1 1046.0,505.2 1047.0,504.6 1048.0,504.4 1049.0,503.9 1050.0,502.9 1051.0,502.3 1052.0,501.4 1053.0,501.0 1054.0,500.2 1055.0,499.1 1056.0,497.9 1057.0,496.7 1058.0,495.4 1059.0,494.0 1060.0,492.4 1061.0,489.8 1062.0,488.3 1063.0,486.6 1064.0,483.7 1065.0,481.2 1066.0,478.7 1067.0,476.2 1068.0,473.8 1069.0,471.1 1070.0,468.3 1071.0,465.5 1072.0,462.8 1073.0,460.1 1074.0,457.1 1075.0,454.4 1076.0,452.2 1077.0,449.1 1078.0,446.1 1079.0,443.6 1080.0,440.9 1081.0,438.1 1082.0,434.7 1083.0,431.9 1084.0,428.9 1085.0,426.4 1086.0,423.6 1087.0,420.6 1088.0,417.6 1089.0,415.0 1090.0,412.5 1091.0,409.7 1092.0,406.9 1093.0,404.1 1094.0,401.5 1095.0,398.8 1096.0,396.4 1097.0,394.0 1098.0,391.7 1099.0,388.9 1100.0,385.9 1101.0,383.7 1102.0,381.3 1103.0,379.6 1104.0,377.7 1105.0,375.6 1106.0,374.2 1107.0,373.0 1108.0,371.5 1109.0,370.7 1110.0,370.4 1111.0,370.2 1112.0,369.7 1113.0,369.2 1114.0,368.1 1115.0,365.7 1116.0,364.1 1117.0,362.0 1118.0,360.0 1119.0,357.7 1120.0,355.6 1121.0,354.1 1122.0,353.4 1123.0,354.4 1124.0,355.2 1125.0,356.5 1126.0,357.1 1127.0,357.3 1128.0,357.1 1129.0,356.6 1130.0,356.7 1131.0,356.9 L1131,525.3 Z" fill="url(#body)" filter="url(#rock)"/>
<g opacity=".32">
<path d="M92.6,518.9 V525.3" stroke="#56262a" stroke-width="1" fill="none"/>
<path d="M243.6,476.9 V525.3" stroke="#56262a" stroke-width="1" fill="none"/>
<path d="M248.2,468.9 V525.3" stroke="#56262a" stroke-width="1" fill="none"/>
<path d="M277.0,456.8 V525.3" stroke="#56262a" stroke-width="1" fill="none"/>
<path d="M400.7,511.9 V525.3" stroke="#56262a" stroke-width="1" fill="none"/>
<path d="M522.4,434.5 V525.3" stroke="#56262a" stroke-width="1" fill="none"/>
<path d="M568.0,369.6 V525.3" stroke="#56262a" stroke-width="1" fill="none"/>
<path d="M600.6,434.4 V525.3" stroke="#56262a" stroke-width="1" fill="none"/>
<path d="M761.8,432.2 V525.3" stroke="#56262a" stroke-width="1" fill="none"/>
<path d="M807.0,369.7 V525.3" stroke="#56262a" stroke-width="1" fill="none"/>
<path d="M836.9,430.5 V525.3" stroke="#56262a" stroke-width="1" fill="none"/>
<path d="M1003.2,512.6 V525.3" stroke="#56262a" stroke-width="1" fill="none"/>
<path d="M1060.0,437.0 V525.3" stroke="#56262a" stroke-width="1" fill="none"/>
</g>
<path d="M0,532.6 H1193.5 L1200,558 H6.5 Z" fill="#88959c"/>
<text class="km" x="33.6" y="553" textLength="19.2" lengthAdjust="spacingAndGlyphs">km</text>
<text class="km" x="83.3" y="553" textLength="19.7" lengthAdjust="spacingAndGlyphs">6,2</text>
<text class="km" x="199.4" y="553" textLength="27.5" lengthAdjust="spacingAndGlyphs">31,6</text>
<text class="km" x="241.5" y="553" textLength="14.3" lengthAdjust="spacingAndGlyphs">32</text>
<text class="km" x="269.5" y="553" textLength="26.2" lengthAdjust="spacingAndGlyphs">37,3</text>
<text class="km" x="393.3" y="553" textLength="15.7" lengthAdjust="spacingAndGlyphs">59</text>
<text class="km" x="509.3" y="553" textLength="27.0" lengthAdjust="spacingAndGlyphs">80,3</text>
<text class="km" x="554.1" y="553" textLength="27.6" lengthAdjust="spacingAndGlyphs">87,9</text>
<text class="km" x="592.6" y="553" textLength="26.7" lengthAdjust="spacingAndGlyphs">93,3</text>
<text class="km" x="747.5" y="553" textLength="22.5" lengthAdjust="spacingAndGlyphs">122</text>
<text class="km" x="784.3" y="553" textLength="34.7" lengthAdjust="spacingAndGlyphs">129,6</text>
<text class="km" x="830.0" y="553" textLength="22.0" lengthAdjust="spacingAndGlyphs">135</text>
<text class="km" x="989.5" y="553" textLength="33.5" lengthAdjust="spacingAndGlyphs">163,5</text>
<text class="km" x="1043.7" y="553" textLength="35.0" lengthAdjust="spacingAndGlyphs">173,3</text>
<text class="km" x="1113.7" y="553" textLength="36.3" lengthAdjust="spacingAndGlyphs" stroke="#fff" stroke-width=".3">185,8</text>
<path class="ln" stroke="#777" d="M62,563.9 V568.8 H1131.2 V563.9"/>
<text class="kx" x="59.4" y="586.1" textLength="5.2" lengthAdjust="spacingAndGlyphs">0</text>
<path class="ln" stroke="#777" d="M119.5,563.9 V568.8"/>
<text class="kx" x="113.9" y="586.1" textLength="11.2" lengthAdjust="spacingAndGlyphs">10</text>
<path class="ln" stroke="#777" d="M177.1,563.9 V568.8"/>
<text class="kx" x="171.5" y="586.1" textLength="11.2" lengthAdjust="spacingAndGlyphs">20</text>
<path class="ln" stroke="#777" d="M234.6,563.9 V568.8"/>
<text class="kx" x="229.0" y="586.1" textLength="11.2" lengthAdjust="spacingAndGlyphs">30</text>
<path class="ln" stroke="#777" d="M292.2,563.9 V568.8"/>
<text class="kx" x="286.6" y="586.1" textLength="11.2" lengthAdjust="spacingAndGlyphs">40</text>
<path class="ln" stroke="#777" d="M349.7,563.9 V568.8"/>
<text class="kx" x="344.1" y="586.1" textLength="11.2" lengthAdjust="spacingAndGlyphs">50</text>
<path class="ln" stroke="#777" d="M407.2,563.9 V568.8"/>
<text class="kx" x="401.6" y="586.1" textLength="11.2" lengthAdjust="spacingAndGlyphs">60</text>
<path class="ln" stroke="#777" d="M464.8,563.9 V568.8"/>
<text class="kx" x="459.2" y="586.1" textLength="11.2" lengthAdjust="spacingAndGlyphs">70</text>
<path class="ln" stroke="#777" d="M522.3,563.9 V568.8"/>
<text class="kx" x="516.7" y="586.1" textLength="11.2" lengthAdjust="spacingAndGlyphs">80</text>
<path class="ln" stroke="#777" d="M579.9,563.9 V568.8"/>
<text class="kx" x="574.3" y="586.1" textLength="11.2" lengthAdjust="spacingAndGlyphs">90</text>
<path class="ln" stroke="#777" d="M637.4,563.9 V568.8"/>
<text class="kx" x="628.6" y="586.1" textLength="17.5" lengthAdjust="spacingAndGlyphs">100</text>
<path class="ln" stroke="#777" d="M694.9,563.9 V568.8"/>
<text class="kx" x="686.2" y="586.1" textLength="17.5" lengthAdjust="spacingAndGlyphs">110</text>
<path class="ln" stroke="#777" d="M752.5,563.9 V568.8"/>
<text class="kx" x="743.7" y="586.1" textLength="17.5" lengthAdjust="spacingAndGlyphs">120</text>
<path class="ln" stroke="#777" d="M810.0,563.9 V568.8"/>
<text class="kx" x="801.3" y="586.1" textLength="17.5" lengthAdjust="spacingAndGlyphs">130</text>
<path class="ln" stroke="#777" d="M867.6,563.9 V568.8"/>
<text class="kx" x="858.8" y="586.1" textLength="17.5" lengthAdjust="spacingAndGlyphs">140</text>
<path class="ln" stroke="#777" d="M925.1,563.9 V568.8"/>
<text class="kx" x="916.4" y="586.1" textLength="17.5" lengthAdjust="spacingAndGlyphs">150</text>
<path class="ln" stroke="#777" d="M982.6,563.9 V568.8"/>
<text class="kx" x="973.9" y="586.1" textLength="17.5" lengthAdjust="spacingAndGlyphs">160</text>
<path class="ln" stroke="#777" d="M1040.2,563.9 V568.8"/>
<text class="kx" x="1031.4" y="586.1" textLength="17.5" lengthAdjust="spacingAndGlyphs">170</text>
<path class="ln" stroke="#777" d="M1097.7,563.9 V568.8"/>
<text class="kx" x="1089.0" y="586.1" textLength="17.5" lengthAdjust="spacingAndGlyphs">180</text>
<text class="lbl" transform="translate(97.4,325.7) rotate(-90)" textLength="89.8" lengthAdjust="spacingAndGlyphs">Panes / 27 m</text>
<text class="lbl" transform="translate(208.0,325.8) rotate(-90)" textLength="202.7" lengthAdjust="spacingAndGlyphs">Carreña de Cabrales / 182 m</text>
<text class="lbl" transform="translate(240.8,284.9) rotate(-90)" textLength="43.1" lengthAdjust="spacingAndGlyphs">186 m</text>
<text class="lbl" transform="translate(284.3,276.3) rotate(-90)" textLength="189.9" lengthAdjust="spacingAndGlyphs">Altu de Hortigueru / 440 m</text>
<text class="lbl" transform="translate(406.6,325.8) rotate(-90)" textLength="276.2" lengthAdjust="spacingAndGlyphs">Cangues d'Onís/Cangas de Onís / 64 m</text>
<text class="lbl" transform="translate(528.6,284.9) rotate(-90)" textLength="43.4" lengthAdjust="spacingAndGlyphs">294 m</text>
<text class="lbl" transform="translate(573.8,275.5) rotate(-90)" textLength="212.4" lengthAdjust="spacingAndGlyphs">La Collada Llomena / 1.003 m</text>
<text class="lbl" transform="translate(606.2,325.4) rotate(-90)" textLength="274.3" lengthAdjust="spacingAndGlyphs">San Xuan/San Juan de Beleño / 611 m</text>
<text class="lbl" transform="translate(767.8,285.5) rotate(-90)" textLength="43.7" lengthAdjust="spacingAndGlyphs">294 m</text>
<text class="lbl" transform="translate(813.2,226.5) rotate(-90)" textLength="211.4" lengthAdjust="spacingAndGlyphs">La Collada Llomena / 1.003 m</text>
<text class="lbl" transform="translate(845.5,325.9) rotate(-90)" textLength="275.8" lengthAdjust="spacingAndGlyphs">San Xuan/San Juan de Beleño / 611 m</text>
<text class="lbl" transform="translate(1008.6,275.5) rotate(-90)" textLength="279.4" lengthAdjust="spacingAndGlyphs">Cangues d'Onís/Cangas de Onís / 65 m</text>
<text class="lbl" transform="translate(1066.6,286.2) rotate(-90)" textLength="210.5" lengthAdjust="spacingAndGlyphs">Cuadonga/Covadonga / 220 m</text>
<text class="ttl" transform="translate(17.8,523.6) rotate(-90)" textLength="74.3" lengthAdjust="spacingAndGlyphs">UNQUERA</text>
<text class="ttl" style="stroke:none" transform="translate(17.8,441.3) rotate(-90)" textLength="5.6" lengthAdjust="spacingAndGlyphs">/</text>
<text class="ttl" transform="translate(17.8,427.9) rotate(-90)" textLength="17.8" lengthAdjust="spacingAndGlyphs">80</text>
<text class="ttl" transform="translate(17.8,403.6) rotate(-90)" textLength="11.4" lengthAdjust="spacingAndGlyphs">m</text>
<text class="ttl" transform="translate(1191.2,523.2) rotate(-90)" textLength="45.2" lengthAdjust="spacingAndGlyphs">LAGOS</text>
<text class="ttl" transform="translate(1191.2,473.7) rotate(-90)" textLength="19.4" lengthAdjust="spacingAndGlyphs">DE</text>
<text class="ttl" transform="translate(1191.2,447.4) rotate(-90)" textLength="101.3" lengthAdjust="spacingAndGlyphs">COVADONGA</text>
<text class="ttl" style="stroke:none" transform="translate(1191.2,341.6) rotate(-90)" textLength="5.6" lengthAdjust="spacingAndGlyphs">/</text>
<text class="ttl" transform="translate(1191.2,327.2) rotate(-90)" textLength="44.1" lengthAdjust="spacingAndGlyphs">1.085</text>
<text class="ttl" transform="translate(1191.2,275.6) rotate(-90)" textLength="11.4" lengthAdjust="spacingAndGlyphs">m</text>
<g transform="translate(62.4,217.1)"><circle r="21" fill="#e8382b" stroke="#3a0c0c" stroke-width="2.6"/><path d="M-8.8,-10.9 V11.5 L11.4,0.3 Z" fill="#fff"/></g>
<use href="#cp" x="235.6" y="310.1"/>
<use href="#cp" x="523.1" y="310.1"/>
<use href="#cp" x="762.0" y="310.1"/>
<use href="#cp" x="1060.1" y="310.1"/>
<g transform="translate(277.6,304.0)"><circle r="20.8" fill="#1f4b9c" stroke="#0e1f47" stroke-width="2.6"/><use href="#mtn" x="0.0"/>
<text x="-15.7" y="0.6" font-size="17.8" font-weight="bold" font-style="italic" fill="#eaf4ff">3</text><text x="-4.2" y="-5.8" font-size="10" font-weight="bold" font-style="italic" fill="#eaf4ff">a</text></g>
<g transform="translate(567.9,304.0)"><circle r="20.8" fill="#1f4b9c" stroke="#0e1f47" stroke-width="2.6"/><use href="#mtn" x="0.0"/>
<text x="-13.6" y="0.6" font-size="17.8" font-weight="bold" font-style="italic" fill="#eaf4ff">1</text><text x="-4.8" y="-5.8" font-size="10" font-weight="bold" font-style="italic" fill="#eaf4ff">a</text></g>
<g transform="translate(806.9,255.8)"><circle r="20.8" fill="#1f4b9c" stroke="#0e1f47" stroke-width="2.6"/><use href="#mtn" x="0.0"/>
<text x="-13.6" y="0.6" font-size="17.8" font-weight="bold" font-style="italic" fill="#eaf4ff">1</text><text x="-4.8" y="-5.8" font-size="10" font-weight="bold" font-style="italic" fill="#eaf4ff">a</text></g>
<g transform="translate(1131.0,165.2)"><circle r="20.8" fill="#1f4b9c" stroke="#0e1f47" stroke-width="2.6"/><use href="#mtn" x="1.7"/>
<text x="-16.1" y="-1.4" font-size="12.8" font-weight="bold" font-style="italic" fill="#fff" textLength="19.5" lengthAdjust="spacingAndGlyphs">ESP</text></g>
<g transform="translate(806.9,303.8)"><circle r="20.8" fill="#3fa9da" stroke="#0e2a44" stroke-width="2.6"/><text transform="translate(-10.8,14) scale(.72,1)" font-size="39" font-weight="bold" font-style="italic" fill="#fff" stroke="#fff" stroke-width=".7">B</text></g>
<g transform="translate(1003.6,304.1)"><circle r="20.8" fill="#20a65a" stroke="#0b2d17" stroke-width="2.6"/><text transform="translate(-13.2,14.4) skewX(-9) scale(.76,1)" font-size="40" font-weight="bold" font-style="italic" fill="#eafff2" stroke="#eafff2" stroke-width="1.1">S</text></g>
<g transform="translate(1131,217)"><circle r="20.6" fill="url(#chk)"/><circle r="20.6" fill="none" stroke="#2a0a0a" stroke-width="2.4"/></g>
</svg></body></html>
